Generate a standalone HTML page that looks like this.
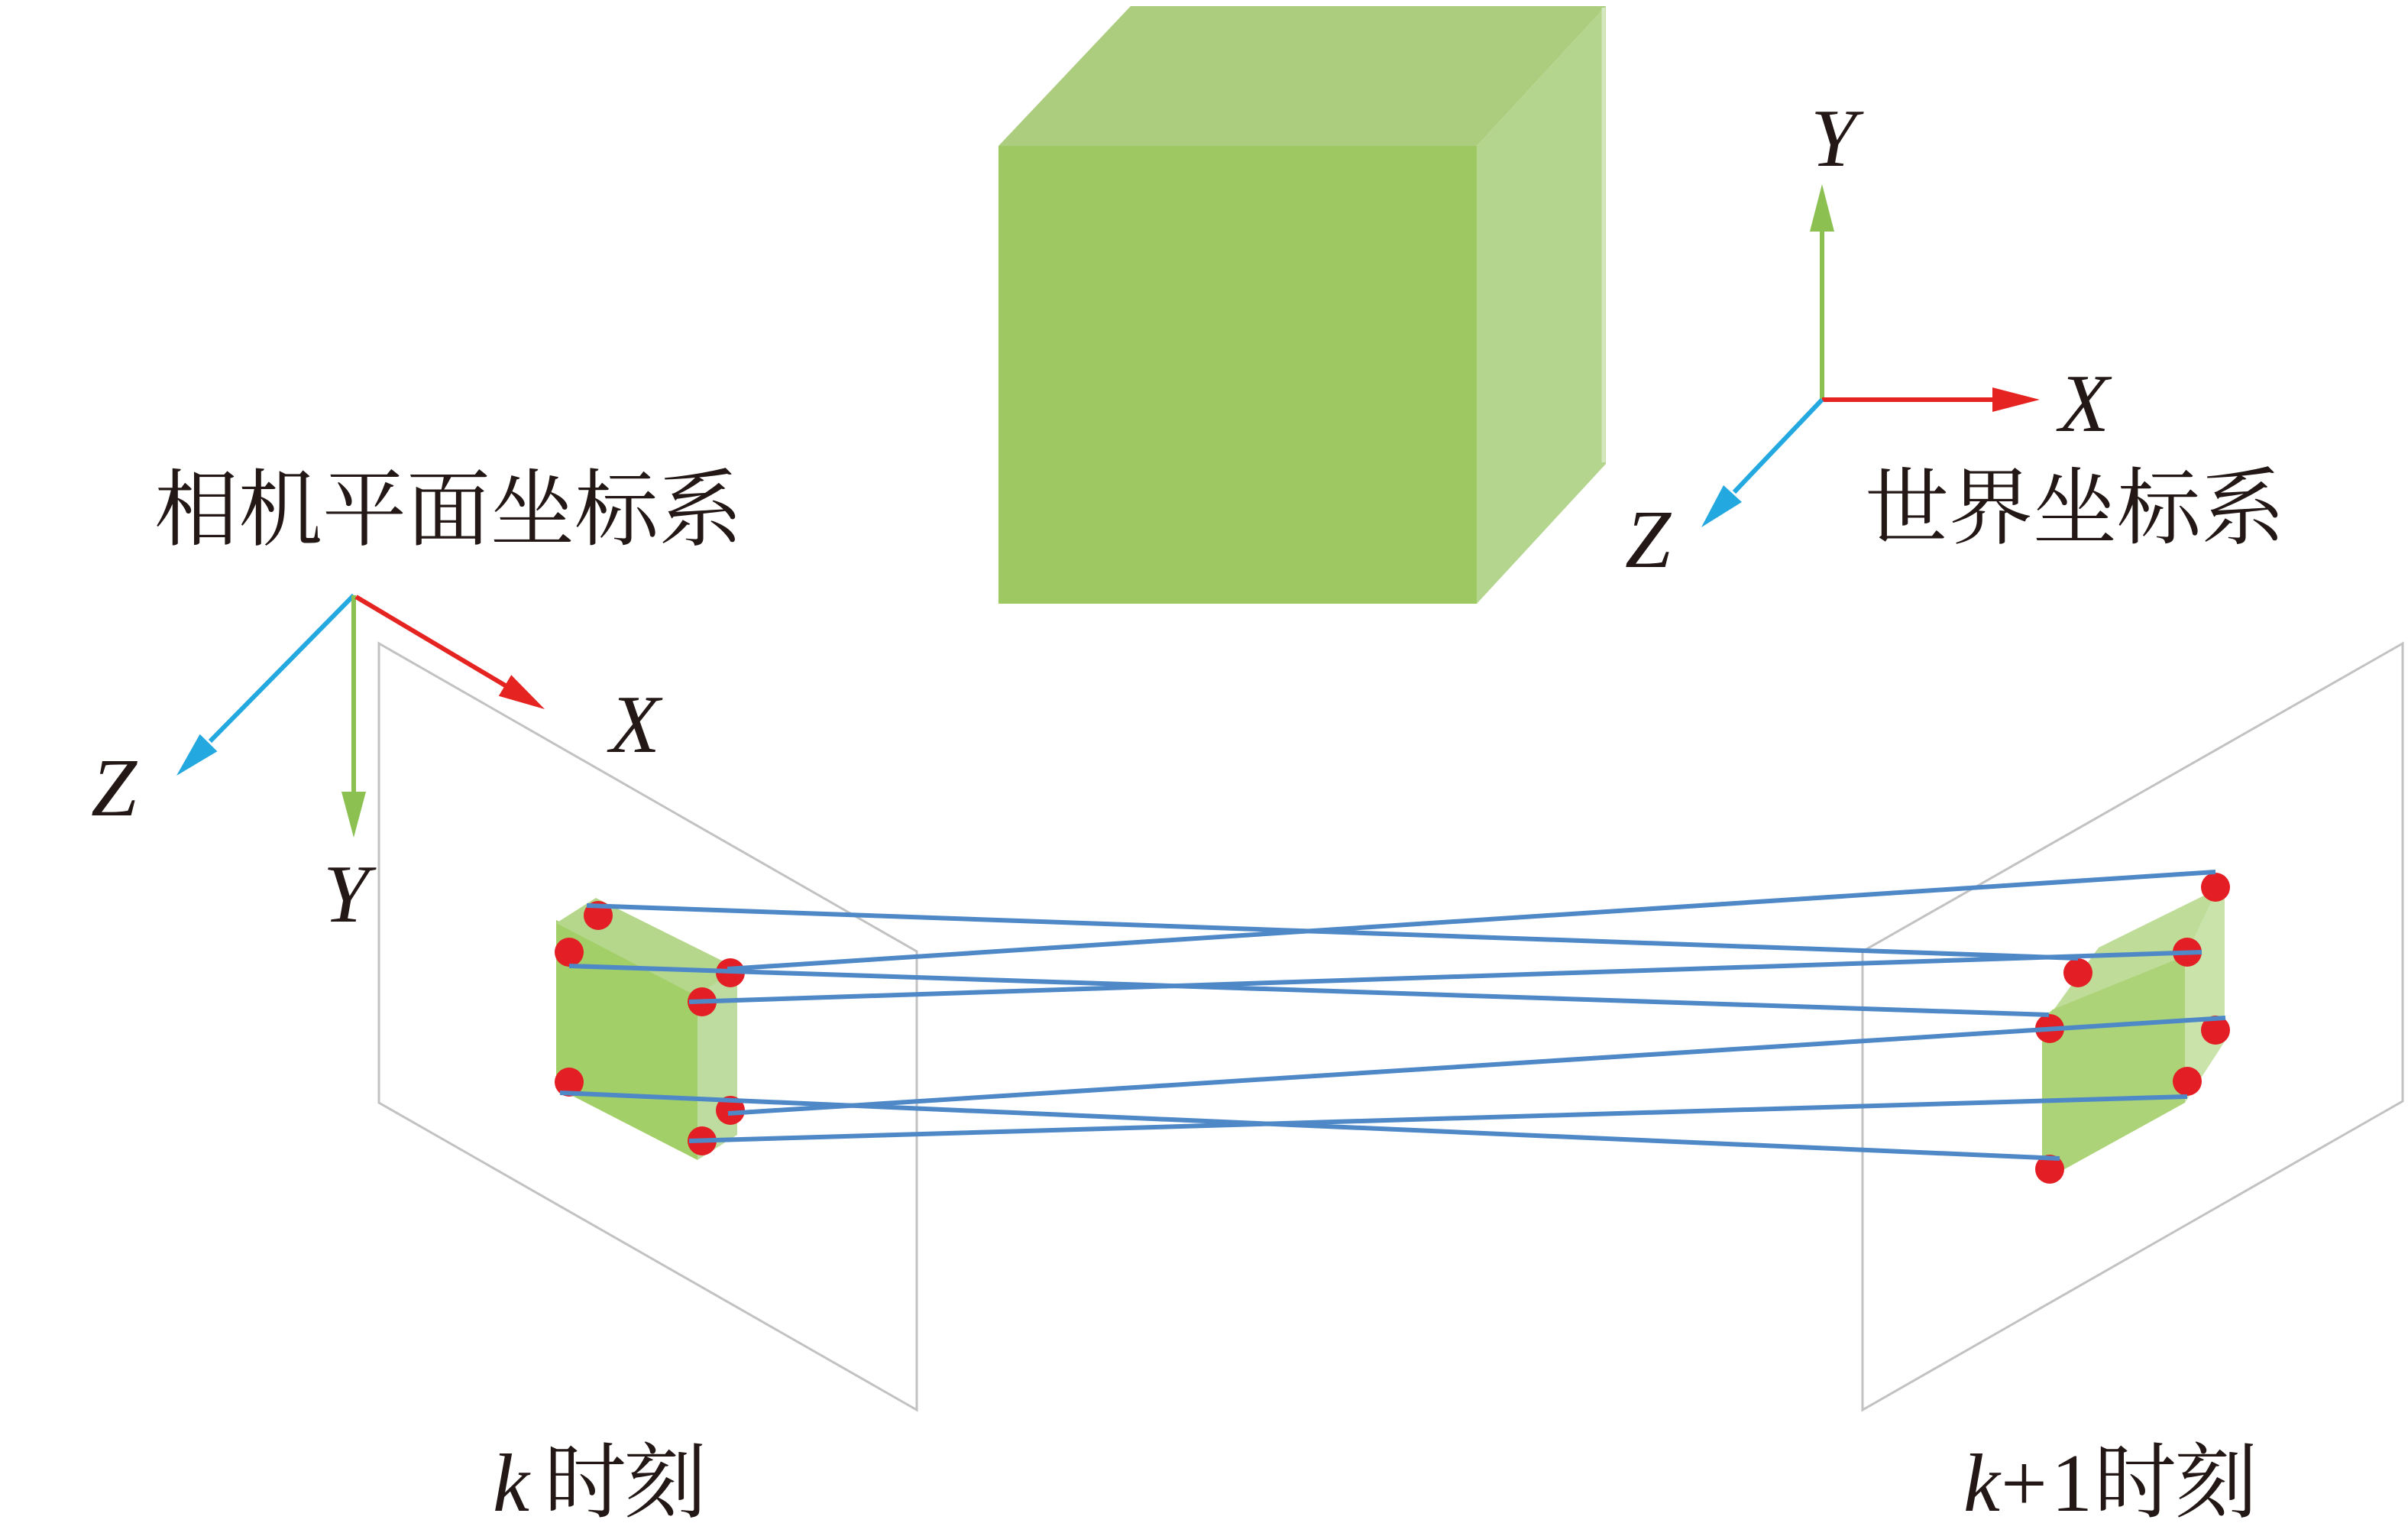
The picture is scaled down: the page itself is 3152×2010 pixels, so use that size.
<!DOCTYPE html>
<html>
<head>
<meta charset="utf-8">
<style>
  html,body{margin:0;padding:0;background:#fff;}
  svg{display:block;}
</style>
</head>
<body>
<svg width="3152" height="2010" viewBox="0 0 3152 2010" xmlns="http://www.w3.org/2000/svg">
  <rect x="0" y="0" width="3152" height="2010" fill="#ffffff"/>

  <!-- Big cube -->
  <polygon points="1307,191 1480,8 2102,8 1933,191" fill="#abcd7d"/>
  <polygon points="1933,191 2102,8 2102,607 1933,790" fill="#b4d58e"/>
  <rect x="1307" y="191" width="626" height="599" fill="#9dc862"/>
  <line x1="2099" y1="10" x2="2099" y2="605" stroke="#d3e8bf" stroke-width="5"/>

  <!-- World axes -->
  <g>
    <line x1="2385" y1="523" x2="2385" y2="300" stroke="#8cc152" stroke-width="6"/>
    <polygon points="2385,241 2369,303 2401,303" fill="#8cc152"/>
    <line x1="2385" y1="523" x2="2611" y2="523" stroke="#e52421" stroke-width="6"/>
    <polygon points="2670,523 2608,507 2608,539" fill="#e52421"/>
    <line x1="2385" y1="523" x2="2270" y2="644" stroke="#24a8e0" stroke-width="6"/>
    <polygon points="2227,690 2280,657 2256,635" fill="#24a8e0"/>
  </g>

  <!-- Camera axes -->
  <g>
    <line x1="463" y1="779" x2="275" y2="970" stroke="#24a8e0" stroke-width="6"/>
    <polygon points="231,1015 284.4,983.2 261.6,960.8" fill="#24a8e0"/>
    <line x1="463" y1="779" x2="463" y2="1040" stroke="#8cc152" stroke-width="6"/>
    <polygon points="463,1096 447,1036 479,1036" fill="#8cc152"/>
    <line x1="466" y1="781" x2="663" y2="898" stroke="#e52421" stroke-width="6"/>
    <polygon points="713,928 652.8,910.7 669.2,883.3" fill="#e52421"/>
  </g>

  <!-- Image planes -->
  <polygon points="496,842 1200,1245 1200,1845 496,1443" fill="none" stroke="#c2c2c2" stroke-width="3"/>
  <polygon points="3145,842 2438,1245 2438,1845 3145,1441" fill="none" stroke="#c2c2c2" stroke-width="3"/>

  <!-- Left projected box -->
  <polygon points="728,1204 913,1298 913,1518 728,1423" fill="#a3cf68"/>
  <polygon points="728,1208 780,1175 965,1267 913,1304" fill="#b4d78b"/>
  <polygon points="913,1302 965,1267 965,1485 913,1518" fill="#bedc9f"/>

  <!-- Right projected box -->
  <polygon points="2687,1323 2747,1240 2903,1163 2860,1253" fill="#bfdc98"/>
  <polygon points="2860,1253 2903,1163 2912,1170 2912,1363 2860,1443" fill="#c9e3ab"/>
  <polygon points="2673,1333 2687,1321 2860,1251 2860,1443 2697,1533 2673,1533" fill="#acd377"/>

  <!-- Red dots left -->
  <g fill="#e31e24">
    <circle cx="783" cy="1198" r="19"/>
    <circle cx="745" cy="1246" r="19"/>
    <circle cx="956" cy="1273" r="19"/>
    <circle cx="919" cy="1311" r="19"/>
    <circle cx="745" cy="1416" r="19"/>
    <circle cx="956" cy="1453" r="19"/>
    <circle cx="919" cy="1493" r="19"/>
  </g>
  <!-- Red dots right -->
  <g fill="#e31e24">
    <circle cx="2900" cy="1161" r="19"/>
    <circle cx="2863" cy="1246" r="19"/>
    <circle cx="2720" cy="1273" r="19"/>
    <circle cx="2683" cy="1346" r="19"/>
    <circle cx="2900" cy="1348" r="19"/>
    <circle cx="2863" cy="1415" r="19"/>
    <circle cx="2683" cy="1530" r="19"/>
  </g>

  <!-- Correspondence lines -->
  <g stroke="#4e88c7" stroke-width="6" stroke-linecap="butt">
    <line x1="768" y1="1185" x2="2720" y2="1254"/>
    <line x1="745" y1="1264" x2="2682" y2="1328"/>
    <line x1="952" y1="1268" x2="2900" y2="1141"/>
    <line x1="902" y1="1311" x2="2882" y2="1246"/>
    <line x1="733" y1="1430" x2="2696" y2="1516"/>
    <line x1="953" y1="1457" x2="2913" y2="1332"/>
    <line x1="902" y1="1493" x2="2863" y2="1435"/>
  </g>

  <!-- Labels: axis letters -->
  <g font-family="'Liberation Serif', 'Times New Roman', serif" font-style="italic" font-size="108" fill="#231815" text-anchor="middle">
    <text x="2400" y="217">Y</text>
    <text x="2728" y="564">X</text>
    <text x="2157" y="742">Z</text>
    <text x="149" y="1067">Z</text>
    <text x="831" y="984">X</text>
    <text x="453" y="1206">Y</text>
  </g>

  <!-- Chinese titles -->
  <g font-family="'Liberation Serif', 'Noto Serif CJK SC', serif" font-size="110" fill="#231815">
    <text x="202" y="705">相机平面坐标系</text>
    <text x="2441" y="703">世界坐标系</text>
  </g>

  <!-- Bottom labels -->
  <g font-size="108" fill="#231815">
    <text x="645" y="1977" font-family="'Liberation Serif', serif" font-style="italic">k</text>
    <text x="712" y="1977" font-family="'Liberation Serif', 'Noto Serif CJK SC', serif">时</text>
    <text x="817" y="1977" font-family="'Liberation Serif', 'Noto Serif CJK SC', serif">刻</text>

    <text x="2570" y="1977" font-family="'Liberation Serif', serif" font-style="italic">k</text>
    <text x="2619" y="1977" font-family="'Liberation Serif', serif">+</text>
    <text x="2685" y="1977" font-family="'Liberation Serif', serif">1</text>
    <text x="2741" y="1977" font-family="'Liberation Serif', 'Noto Serif CJK SC', serif">时</text>
    <text x="2847" y="1977" font-family="'Liberation Serif', 'Noto Serif CJK SC', serif">刻</text>
  </g>
</svg>
</body>
</html>
